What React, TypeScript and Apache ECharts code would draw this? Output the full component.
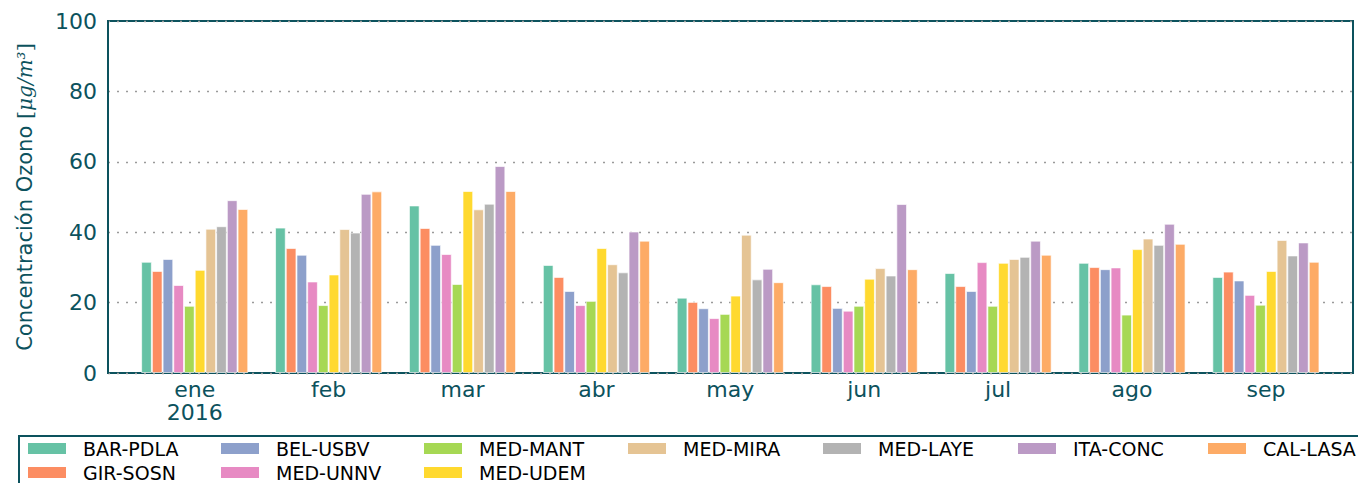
import React, { useEffect, useRef } from "react";
import * as echarts from "echarts";

const months = ["ene\n2016", "feb", "mar", "abr", "may", "jun", "jul", "ago", "sep"];
const yTicksMin = 0;
const yTicksMax = 100;
const yTickStep = 20;

const stations = [
  "BAR-PDLA", "GIR-SOSN", "BEL-USBV", "MED-UNNV", "MED-MANT",
  "MED-UDEM", "MED-MIRA", "MED-LAYE", "ITA-CONC", "CAL-LASA",
];
const colors = [
  "#66c2a5", "#fc8d62", "#8da0cb", "#e78ac3", "#a6d854",
  "#ffd92f", "#e5c494", "#b3b3b3", "#bb9ac5", "#fdab66",
];

const barPdla = [31.6, 41.3, 47.6, 30.7, 21.4, 25.2, 28.4, 31.3, 27.3];
const girSosn = [29.0, 35.5, 41.2, 27.3, 20.2, 24.7, 24.7, 30.1, 28.8];
const belUsbv = [32.4, 33.6, 36.4, 23.3, 18.4, 18.5, 23.3, 29.5, 26.3];
const medUnnv = [25.0, 26.0, 33.8, 19.3, 15.6, 17.7, 31.5, 30.0, 22.2];
const medMant = [19.1, 19.3, 25.3, 20.5, 16.8, 19.1, 19.1, 16.6, 19.4];
const medUdem = [29.3, 28.0, 51.7, 35.5, 22.0, 26.8, 31.3, 35.2, 29.0];
const medMira = [41.0, 40.9, 46.5, 30.9, 39.3, 29.8, 32.4, 38.2, 37.8];
const medLaye = [41.7, 39.9, 48.1, 28.6, 26.6, 27.7, 33.0, 36.4, 33.4];
const itaConc = [49.1, 50.9, 58.8, 40.2, 29.6, 48.0, 37.6, 42.4, 37.1];
const calLasa = [46.6, 51.6, 51.7, 37.6, 25.8, 29.5, 33.6, 36.7, 31.6];

const values = [barPdla, girSosn, belUsbv, medUnnv, medMant, medUdem, medMira, medLaye, itaConc, calLasa];

const TEAL = "#0c525d";
const FONT = "DejaVu Sans";

// legend layout (matplotlib column-major, 7 columns)
const legendColX = [28, 221, 424, 628, 823, 1018, 1208];
const legendRowY = [443, 467];
const legendCell = [[0, 0], [0, 1], [1, 0], [1, 1], [2, 0], [2, 1], [3, 0], [4, 0], [5, 0], [6, 0]];

export default function App() {
  const ref = useRef<HTMLDivElement>(null);
  useEffect(() => {
    document.body.style.margin = "0";
    const chart = echarts.init(ref.current!, null, { renderer: "svg" });

    const legendGraphics: any[] = [
      {
        type: "rect",
        shape: { x: 19, y: 436, width: 1370, height: 70 },
        style: { fill: "#fff", stroke: TEAL, lineWidth: 2 },
      },
    ];
    stations.forEach((name, i) => {
      const [c, r] = legendCell[i];
      const sx = legendColX[c];
      const sy = legendRowY[r];
      legendGraphics.push({
        type: "rect",
        shape: { x: sx, y: sy, width: 38, height: 11 },
        style: { fill: colors[i] },
      });
      legendGraphics.push({
        type: "text",
        x: sx + 55,
        y: sy + 6,
        style: {
          text: name,
          fontFamily: FONT,
          fontSize: 19,
          fill: "#000",
          verticalAlign: "middle",
        },
      });
    });

    const option: any = {
      animation: false,
      backgroundColor: "#fff",
      grid: [
        {
          left: 108, top: 21, width: 1245, height: 352,
          show: true, borderColor: TEAL, borderWidth: 2, backgroundColor: "transparent",
        },
        { left: 127.75, top: 21, width: 1205.1, height: 352, show: false },
      ],
      xAxis: [
        { type: "value", gridIndex: 0, min: 0, max: 1, show: false },
        {
          type: "category",
          gridIndex: 1,
          data: months,
          axisLine: { show: false },
          axisTick: { show: false },
          axisLabel: {
            color: TEAL, fontFamily: FONT, fontSize: 22, margin: 5, lineHeight: 23,
          },
        },
      ],
      yAxis: [
        {
          type: "value",
          gridIndex: 0,
          min: yTicksMin,
          max: yTicksMax,
          interval: yTickStep,
          axisLine: { show: true, lineStyle: { color: TEAL, width: 2 } },
          axisTick: { show: false },
          axisLabel: { color: TEAL, fontFamily: FONT, fontSize: 22, margin: 11 },
          splitLine: { show: true, lineStyle: { color: "#9a9a9a", type: [2, 7], width: 1.3 } },
          name: "Concentración Ozono {b|[}{m|μg/m³}{b|]}",
          nameLocation: "middle",
          nameRotate: 90,
          nameGap: 73,
          nameTextStyle: {
            color: TEAL,
            fontFamily: FONT,
            fontSize: 21,
            rich: {
              b: { color: TEAL, fontFamily: "DejaVu Serif", fontSize: 21 },
              m: { color: TEAL, fontFamily: "DejaVu Serif", fontStyle: "italic", fontSize: 20 },
            },
          },
        },
        { type: "value", gridIndex: 1, min: yTicksMin, max: yTicksMax, show: false },
      ],
      series: stations.map((name, i) => ({
        name,
        type: "bar",
        xAxisIndex: 1,
        yAxisIndex: 1,
        data: values[i],
        barGap: "0%",
        barCategoryGap: "20%",
        itemStyle: { color: colors[i], borderColor: "rgba(255,255,255,0.65)", borderWidth: 1 },
      })),
      graphic: legendGraphics,
    };
    chart.setOption(option);
    return () => chart.dispose();
  }, []);
  return <div ref={ref} style={{ position: "absolute", left: 0, top: 0, width: 1358, height: 483 }} />;
}
